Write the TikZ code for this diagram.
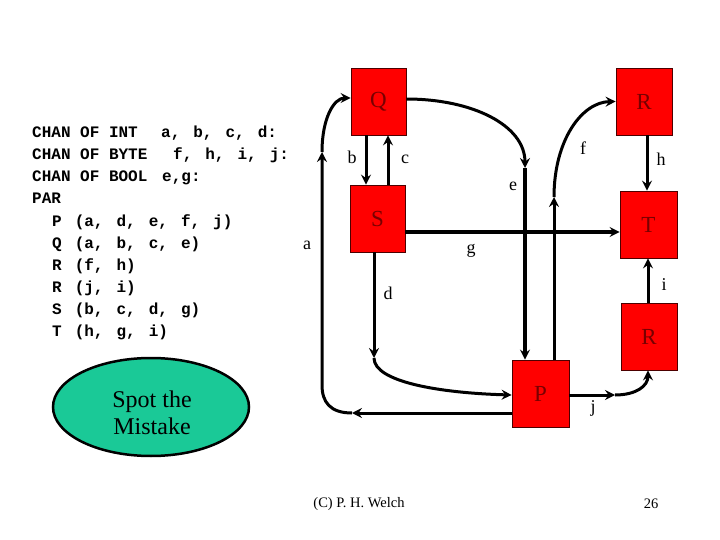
\documentclass[tikz,border=0pt]{standalone}
\usepackage{fontspec}
\setmainfont{Liberation Serif}
\newfontfamily\codefont{Liberation Mono}
\newcommand\cgap{\hspace*{13pt}}
\usetikzlibrary{shapes.geometric,arrows.meta}
\definecolor{boxred}{RGB}{255,0,0}
\definecolor{labred}{RGB}{120,0,0}
\definecolor{teal2}{RGB}{26,201,151}
\begin{document}
\begin{tikzpicture}[x=1pt,y=-1pt,
  proc/.style={draw=black!70!red,line width=0.8pt,fill=boxred,minimum width=#1,minimum height=67pt,inner sep=0pt,
     font=\fontsize{23}{23}\selectfont,text=labred},
  chan/.style={line width=3pt,-{Stealth[length=10pt,width=10pt,inset=3.5pt]}},
  lab/.style={font=\fontsize{18}{18}\selectfont,inner sep=0pt},
  codeline/.style={anchor=base west,inner sep=0pt,font=\codefont\bfseries\fontsize{16}{16}\selectfont},
  ]
\useasboundingbox (0,0) rectangle (720,540);
% code
\node[codeline] (c0) at (32,138) {CHAN OF INT};
\node[codeline] (c0b) at (161,138) {a,\cgap b,\cgap c,\cgap d:};
\node[codeline] (c1) at (32,160) {CHAN OF BYTE};
\node[codeline] (c1b) at (173,160) {f,\cgap h,\cgap i,\cgap j:};
\node[codeline] (c2) at (32,182) {CHAN OF BOOL};
\node[codeline] (c2b) at (162,182) {e,g:};
\node[codeline] (c3) at (32,204) {PAR};
\node[codeline] (c4) at (52,226) {P\cgap(a,\cgap d,\cgap e,\cgap f,\cgap j)};
\node[codeline] (c5) at (52,248) {Q\cgap(a,\cgap b,\cgap c,\cgap e)};
\node[codeline] (c6) at (52,270) {R\cgap(f,\cgap h)};
\node[codeline] (c7) at (52,292) {R\cgap(j,\cgap i)};
\node[codeline] (c8) at (52,314) {S\cgap(b,\cgap c,\cgap d,\cgap g)};
\node[codeline] (c9) at (52,336) {T\cgap(h,\cgap g,\cgap i)};
% boxes
\node[proc=55pt] (Q) at (378.5,101.5) {Q};
\node[proc=56pt] (R1) at (644,101.5) {R};
\node[proc=55pt] (S) at (377.5,218.5) {S};
\node[proc=57pt] (T) at (648.5,224.5) {T};
\node[proc=56pt] (R2) at (649,336.5) {R};
\node[proc=57pt] (P) at (540.5,393.5) {P};
% ellipse
\node[ellipse,draw=black,line width=2.5pt,fill=teal2,minimum width=196pt,minimum height=98pt] (spot) at (151,407) {};
\node[align=center,font=\fontsize{24}{27}\selectfont,inner sep=0pt] (spottext) at (152,413) {Spot the\\ Mistake};
% coordinates
\coordinate (a1) at (352,413);
\coordinate (a2) at (322,152);
\coordinate (e1) at (525,168);
\coordinate (f1) at (554,197);
\coordinate (d1) at (374,358);
\coordinate (j1) at (615,395);
% a
\draw[chan] (P.west |- a1) -- (a1);
\draw[chan] (a1) .. controls (330,413) and (322,402) .. (322,385) -- (a2);
\draw[chan] (a2) .. controls (322,118) and (334,98) .. ([yshift=3.5pt]Q.west);
% b c
\draw[chan] ([xshift=-12.5pt]Q.south) -- ([xshift=-11.5pt]S.north);
\draw[chan] ([xshift=10.5pt]S.north) -- ([xshift=9.5pt]Q.south);
% e
\draw[chan] ([yshift=2.5pt]Q.east) .. controls (472,99) and (525,125) .. (e1);
\draw[chan,line width=4pt] (e1) -- (P.north -| e1);
% f
\draw[chan] (P.north -| f1) -- (f1);
\draw[chan] (f1) .. controls (554,140) and (582,102) .. (R1.west);
% g
\draw[chan] ([yshift=-13.5pt]S.east) -- ([yshift=-7.5pt]T.west);
% h i
\draw[chan] ([xshift=3pt]R1.south) -- ([xshift=-1.5pt]T.north);
\draw[chan] ([xshift=-1pt]R2.north) -- ([xshift=-0.5pt]T.south);
% d
\draw[chan] ([xshift=-3.5pt]S.south) -- (d1);
\draw[chan] (d1) .. controls (374,382) and (440,393) .. ([yshift=-1.5pt]P.west);
% j
\draw[chan] ([yshift=-1.5pt]P.east) -- (j1);
\draw[chan] (j1) .. controls (636,395) and (648,386) .. ([xshift=-1pt]R2.south);
% labels
\node[lab] (la) at (307,245) {a};
\node[lab] (lb) at (352,157) {b};
\node[lab] (lc) at (405,159) {c};
\node[lab] (ld) at (388,293) {d};
\node[lab] (le) at (513,186) {e};
\node[lab] (lf) at (583,148) {f};
\node[lab] (lg) at (471,251) {g};
\node[lab] (lh) at (661,159) {h};
\node[lab] (li) at (664,285) {i};
\node[lab] (lj) at (593,408) {j};
% footer
\node[font=\fontsize{14.5}{14.5}\selectfont,inner sep=0pt] (foot) at (359,504) {(C) P. H. Welch};
\node[font=\fontsize{14.5}{14.5}\selectfont,inner sep=0pt] (page) at (651,504) {26};
\end{tikzpicture}
\end{document}
